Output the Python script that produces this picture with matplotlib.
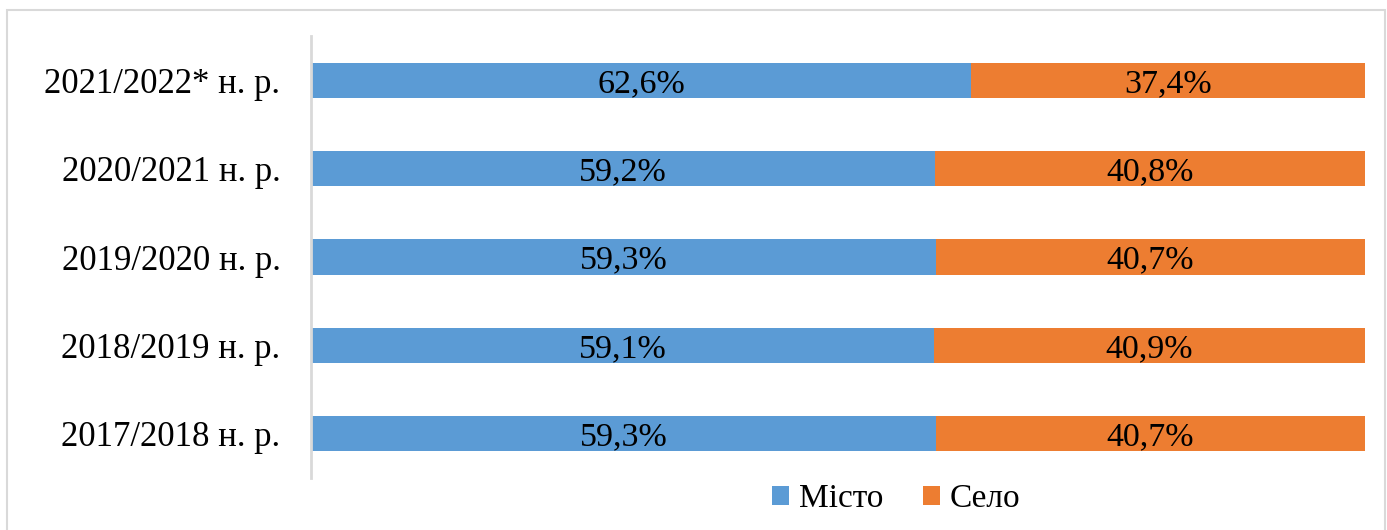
import numpy as np
import matplotlib.pyplot as plt
from matplotlib.patches import Rectangle

# data
years = ['2017/2018 н. р.', '2018/2019 н. р.', '2019/2020 н. р.',
         '2020/2021 н. р.', '2021/2022* н. р.']
misto = [59.3, 59.1, 59.3, 59.2, 62.6]
selo = [40.7, 40.9, 40.7, 40.8, 37.4]
series_names = ['Місто', 'Село']

plt.rcParams['font.family'] = ['Liberation Serif', 'DejaVu Serif']

fig = plt.figure(figsize=(13.87, 5.30), dpi=100)
W, H = 1387, 530

# outer frame
fig.patches.append(Rectangle((7 / W, -0.05), (1385 - 7) / W, 1.05 - 10 / H,
                             transform=fig.transFigure, fill=False,
                             edgecolor='#d9d9d9', linewidth=1.5))

ax = fig.add_axes([311 / W, 1 - 478 / H, (1365 - 311) / W, (478 - 36) / H])

y = np.arange(len(years))
b1 = ax.barh(y, misto, height=0.4, color='#5B9BD5', label=series_names[0])
b2 = ax.barh(y, selo, left=misto, height=0.4, color='#ED7D31', label=series_names[1])

for i in range(len(years)):
    ax.text(misto[i] / 2, y[i], f'{misto[i]:.1f}%'.replace('.', ','),
            ha='center', va='center_baseline', fontsize=24.5, color='black')
    ax.text(misto[i] + selo[i] / 2, y[i], f'{selo[i]:.1f}%'.replace('.', ','),
            ha='center', va='center_baseline', fontsize=24.5, color='black')

ax.set_xlim(0, 100)
ax.set_ylim(-0.5, 4.5)
ax.set_yticks(y)
ax.set_yticklabels(years, fontsize=25)
ax.tick_params(axis='y', length=0, pad=22)
ax.set_xticks([])
for s in ['top', 'right', 'bottom']:
    ax.spines[s].set_visible(False)
ax.spines['left'].set_color('#d9d9d9')
ax.spines['left'].set_linewidth(2)

fig.legend(handles=[b1, b2], loc='center', bbox_to_anchor=(896 / W, 1 - 499 / H),
           ncol=2, frameon=False, fontsize=24, handlelength=0.5, handleheight=0.5,
           handletextpad=0.3, columnspacing=1.2)

fig.savefig('out.png', dpi=100)
